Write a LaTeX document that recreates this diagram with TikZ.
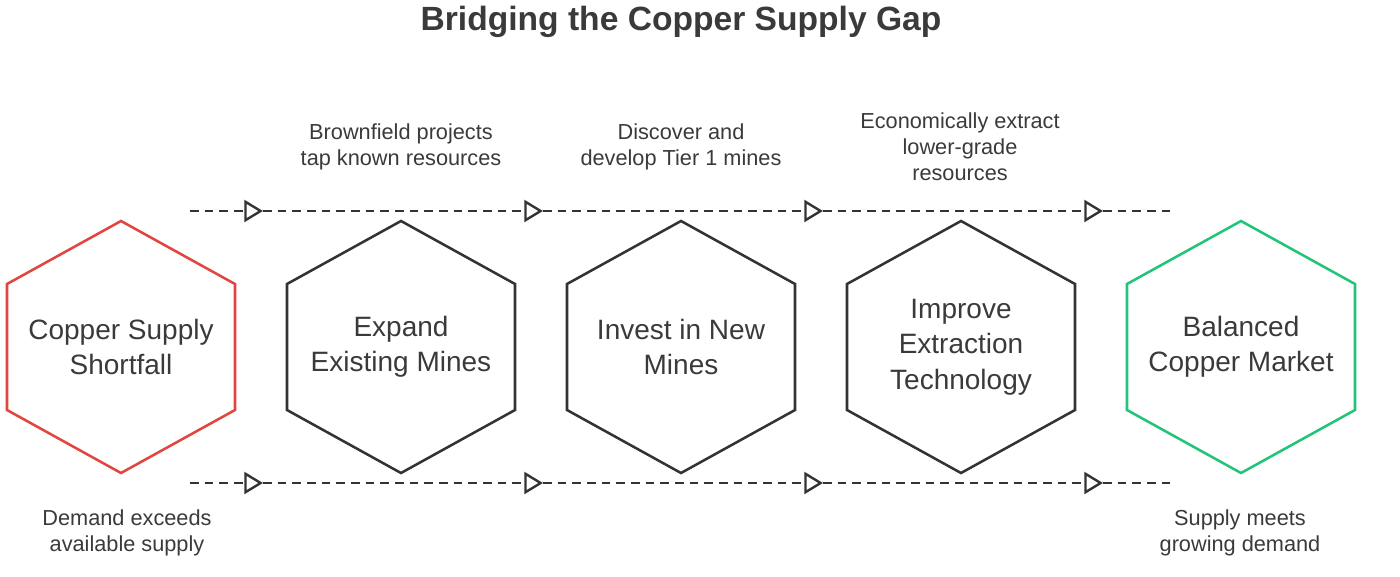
\documentclass[tikz,border=0pt]{standalone}
\usepackage{fontspec}
\setmainfont{Liberation Sans}
\usetikzlibrary{arrows.meta,calc}
\definecolor{txt}{HTML}{3A3A3A}
\definecolor{hexdark}{HTML}{333333}
\definecolor{hexred}{HTML}{E2453F}
\definecolor{hexgreen}{HTML}{22C47A}
\tikzset{
  hextext/.style={text=txt,font=\fontsize{21}{26.5}\selectfont,align=center},
  lbl/.style={text=txt,font=\fontsize{16.3}{19.5}\selectfont,align=center},
  flow/.style={draw=hexdark,line width=2pt,dash pattern=on 6.5pt off 4.5pt},
  flowarrow/.style={flow,-{Triangle[open,length=14pt,width=16.5pt,line width=1.8pt]}},
  hexline/.style={line width=1.9pt,line join=miter}
}
\newcommand{\hexshape}[2]{%
  \draw[hexline,draw=#2] ($(#1)+(0,-126)$) -- ($(#1)+(114,-63)$) -- ($(#1)+(114,63)$) -- ($(#1)+(0,126)$) -- ($(#1)+(-114,63)$) -- ($(#1)+(-114,-63)$) -- cycle;}
\begin{document}
\begin{tikzpicture}[x=0.75pt,y=-0.75pt]
\useasboundingbox (0,0) rectangle (1400,576);
\node[text=txt,font=\fontsize{25.2}{30}\selectfont\bfseries] (title) at (681,22) {Bridging the Copper Supply Gap};
% hexagons
\node[hextext] (h1) at (121,347) {Copper Supply\\Shortfall};
\node[hextext] (h2) at (401,347) {Expand\\Existing Mines};
\node[hextext] (h3) at (681,347) {Invest in New\\Mines};
\node[hextext] (h4) at (961,347) {Improve\\Extraction\\Technology};
\node[hextext] (h5) at (1241,347) {Balanced\\Copper Market};
\hexshape{h1}{hexred}
\hexshape{h2}{hexdark}
\hexshape{h3}{hexdark}
\hexshape{h4}{hexdark}
\hexshape{h5}{hexgreen}
% flow lines
\coordinate (ts) at (190,211);
\coordinate (ta1) at (263,211);
\coordinate (ta2) at (543,211);
\coordinate (ta3) at (823,211);
\coordinate (ta4) at (1103,211);
\coordinate (te) at (1173,211);
\coordinate (bs) at (190,483);
\coordinate (ba1) at (263,483);
\coordinate (ba2) at (543,483);
\coordinate (ba3) at (823,483);
\coordinate (ba4) at (1103,483);
\coordinate (be) at (1173,483);
\draw[flowarrow] (ts) -- (ta1);
\draw[flowarrow] (ta1) -- (ta2);
\draw[flowarrow] (ta2) -- (ta3);
\draw[flowarrow] (ta3) -- (ta4);
\draw[flow] (ta4) -- (te);
\draw[flowarrow] (bs) -- (ba1);
\draw[flowarrow] (ba1) -- (ba2);
\draw[flowarrow] (ba2) -- (ba3);
\draw[flowarrow] (ba3) -- (ba4);
\draw[flow] (ba4) -- (be);
% labels
\node[lbl] (l2) at (401,147) {Brownfield projects\\tap known resources};
\node[lbl] (l3) at (681,147) {Discover and\\develop Tier 1 mines};
\node[lbl] (l4) at (960,147) {Economically extract\\lower-grade\\resources};
\node[lbl] (l1) at (127,533) {Demand exceeds\\available supply};
\node[lbl] (l5) at (1240,533) {Supply meets\\growing demand};
\end{tikzpicture}
\end{document}
